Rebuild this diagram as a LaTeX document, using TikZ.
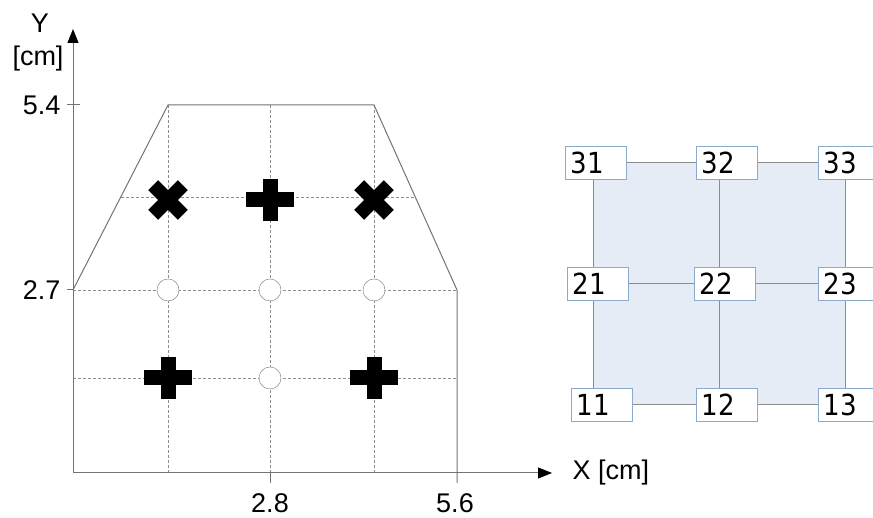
\documentclass[tikz,border=0pt]{standalone}
\usepackage{fontspec}
\setmainfont{Liberation Sans}
\newfontfamily\cellfont{DejaVu Sans}[FakeStretch=0.9]
\usepackage{xcolor}
\usepackage{tikz}
\usetikzlibrary{positioning, arrows.meta}
\definecolor{axisgray}{RGB}{115,115,115}
\definecolor{gridgray}{RGB}{140,140,140}
\definecolor{cellblue}{RGB}{140,170,205}
\definecolor{panelblue}{RGB}{230,236,246}
\tikzset{
  plusmark/.pic={\fill (-24,-7.5) rectangle (24,7.5); \fill (-7.5,-21) rectangle (7.5,21);},
  crossmark/.pic={\fill[rotate=45] (-21,-7) rectangle (21,7); \fill[rotate=-45] (-21,-7) rectangle (21,7);}
}
\begin{document}
\begin{tikzpicture}[x=1pt, y=1pt,
  every node/.style={font=\fontsize{27}{30}\selectfont},
  axis/.style={draw=axisgray, line width=1pt, -{Triangle[length=14pt, width=11pt, color=black]}},
  outline/.style={draw=axisgray, line width=1pt},
  gridline/.style={draw=gridgray, line width=0.8pt, dash pattern=on 3pt off 2pt},
  hole/.style={circle, draw=axisgray, fill=white, minimum size=22pt, inner sep=0pt},
  cell/.style={draw=cellblue, line width=1.2pt, fill=white, minimum height=33pt, text width=51pt,
    text height=21pt, text depth=0pt, inner xsep=5pt, inner ysep=0pt, align=left,
    font=\cellfont\fontsize{29}{32}\selectfont},
  link/.style={draw=gridgray, line width=1pt}]
\useasboundingbox (0,0) rectangle (873,518);

% left: tool outline with grid
\coordinate (o) at (73,45);
\coordinate (yend) at (73,489);
\coordinate (xend) at (552,45);
\foreach \gx in {168,270,374} \draw[gridline] (\gx,413) -- (\gx,45);
\draw[gridline] (121,321) -- (415,321);
\draw[gridline] (73,228) -- (457,228);
\draw[gridline] (73,140) -- (457,140);
\draw[outline] (73,228) -- (168,413) -- (374,413) -- (457,228) -- (457,35);
\draw[outline] (67,413) -- (80,413);
\draw[outline] (67,228) -- (73,228);
\draw[outline] (270,45) -- (270,35);
\draw[axis] (o) -- (yend);
\draw[axis] (o) -- (xend);

\node (ylab) at (40,495) {Y};
\node (yunit) at (38,459) {[cm]};
\node[anchor=west] (xlab) at (569,45) {X [cm]};
\node[anchor=east] (t54) at (64,413) {5.4};
\node[anchor=east] (t27) at (64,228) {2.7};
\node (t28) at (270,15) {2.8};
\node (t56) at (455,15) {5.6};

% markers
\pic at (168,318) {crossmark};
\pic at (270,318) {plusmark};
\pic at (374,318) {crossmark};
\pic at (168,140) {plusmark};
\pic at (374,140) {plusmark};
\node[hole] (h21) at (168,228) {};
\node[hole] (h22) at (270,228) {};
\node[hole] (h23) at (374,228) {};
\node[hole] (h12) at (270,140) {};

% right: numbered grid
\fill[panelblue] (593,113) rectangle (845,355);
\foreach \r/\yy in {1/113,2/234,3/355}
  \foreach \c/\xx in {1/593,2/719,3/845}
    \coordinate (g\r\c) at (\xx,\yy);
\foreach \r in {1,2,3} {
  \draw[link] (g\r1) -- (g\r3);
  \draw[link] (g1\r) -- (g3\r);
}
\node[cell, xshift=3pt] (c31) at (g31) {31};
\node[cell, xshift=8pt] (c32) at (g32) {32};
\node[cell, xshift=4pt] (c33) at (g33) {33};
\node[cell, xshift=5pt] (c21) at (g21) {21};
\node[cell, xshift=6pt] (c22) at (g22) {22};
\node[cell, xshift=4pt] (c23) at (g23) {23};
\node[cell, xshift=9pt] (c11) at (g11) {11};
\node[cell, xshift=8pt] (c12) at (g12) {12};
\node[cell, xshift=4pt] (c13) at (g13) {13};
\end{tikzpicture}
\end{document}
